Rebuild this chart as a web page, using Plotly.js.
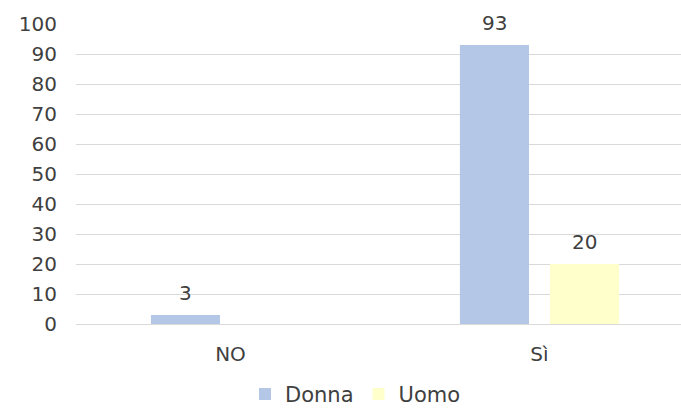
<!DOCTYPE html>
<html>
<head>
<meta charset="utf-8">
<script src="https://cdn.plot.ly/plotly-3.0.1.min.js"></script>
<style>html,body{margin:0;padding:0;background:#fff;}#chart{width:681px;height:409px;}</style>
</head>
<body>
<div id="chart"></div>
<script>
const categories = ["NO", "Sì"];
const donna = [3, 93];
const uomo = [null, 20];
const seriesNames = ["Donna", "Uomo"];
const yTicks = [0, 10, 20, 30, 40, 50, 60, 70, 80, 90, 100];

const font = {family: "DejaVu Sans, Verdana, sans-serif", size: 20, color: "#404040"};
const legendFont = {family: "DejaVu Sans, Verdana, sans-serif", size: 21, color: "#404040"};

const traces = [
  {type: "bar", name: seriesNames[0], x: categories, y: donna,
   marker: {color: "#b4c7e7"}, hoverinfo: "none"},
  {type: "bar", name: seriesNames[1], x: categories, y: uomo,
   marker: {color: "#ffffcc"}, hoverinfo: "none"}
];

// data labels from the series arrays
const annotations = [];
[donna, uomo].forEach((series, si) => {
  series.forEach((v, ci) => {
    if (v == null) return;
    annotations.push({x: categories[ci], y: v, xref: "x", yref: "y",
      text: String(v), showarrow: false, font: font,
      xanchor: "center", yanchor: "middle",
      xshift: si === 0 ? -45 : 45, yshift: 22});
  });
});

const layout = {
  width: 681, height: 409,
  margin: {l: 76, r: 0, t: 24, b: 85, autoexpand: false},
  paper_bgcolor: "#fff", plot_bgcolor: "#fff",
  font: font,
  barmode: "group", bargap: 0.417, bargroupgap: 0.233,
  showlegend: true,
  legend: {orientation: "h", x: 0.462, xanchor: "center", yref: "container", y: 0.036, yanchor: "middle",
           font: legendFont, itemwidth: 30, traceorder: "normal", tracegroupgap: 0},
  annotations: annotations,
  xaxis: {type: "category", range: [-0.5, 1.458], showgrid: false, showline: false,
          zeroline: false, ticks: "", tickfont: font, ticklabelstandoff: 16, fixedrange: true},
  yaxis: {range: [0, 100], tickvals: yTicks, ticktext: yTicks.map(String),
          showgrid: true, gridcolor: "#d9d9d9", gridwidth: 1,
          zeroline: true, zerolinecolor: "#d9d9d9", zerolinewidth: 1,
          showline: false, ticks: "", tickfont: font, ticklabelstandoff: 18, fixedrange: true}
};

Plotly.newPlot("chart", traces, layout, {displayModeBar: false, staticPlot: true});
</script>
</body>
</html>
